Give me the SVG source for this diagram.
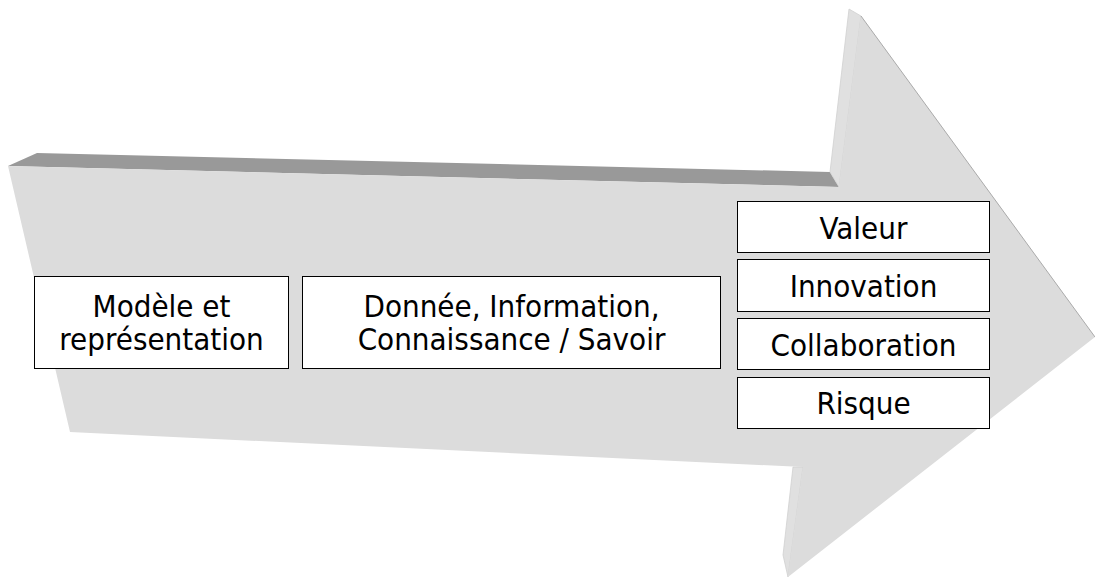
<svg xmlns="http://www.w3.org/2000/svg" width="1095" height="577" viewBox="0 0 1095 577">
<style>
.box{fill:#ffffff;stroke:#000000;stroke-width:1}
.t{font-family:"DejaVu Sans Condensed","DejaVu Sans",sans-serif;font-size:31px;fill:#000000;text-anchor:middle}
</style>
<rect width="1095" height="577" fill="#ffffff"/>
<g id="arrow">
<polygon points="8,166 37,153 830,172 839,187" fill="#999999"/>
<polygon points="830,172 849,9 861,16 839,187" fill="#e0e0e0" stroke="#d0d0d0" stroke-width="0.8"/>
<polygon points="793,467 803,467 788,577 783,555" fill="#e0e0e0" stroke="#d0d0d0" stroke-width="0.8"/>
<polygon points="8,166 839,187 861,16 1095,337 788,577 803,467 70,432" fill="#dcdcdc"/>
<line x1="861" y1="16" x2="1095" y2="337" stroke="#aaaaaa" stroke-width="1"/>
</g>
<g id="node-modele">
<rect class="box" x="34.5" y="276.5" width="254" height="92"/>
<text class="t" x="161.5" y="317">Modèle et</text>
<text class="t" x="161.5" y="350">représentation</text>
</g>
<g id="node-donnee">
<rect class="box" x="302.5" y="276.5" width="418" height="92"/>
<text class="t" x="511.5" y="317">Donnée, Information,</text>
<text class="t" x="511.5" y="350">Connaissance / Savoir</text>
</g>
<g id="node-valeur">
<rect class="box" x="737.5" y="201.5" width="252" height="51"/>
<text class="t" x="863.5" y="239">Valeur</text>
</g>
<g id="node-innovation">
<rect class="box" x="737.5" y="259.5" width="252" height="52"/>
<text class="t" x="863.5" y="297">Innovation</text>
</g>
<g id="node-collaboration">
<rect class="box" x="737.5" y="318.5" width="252" height="51"/>
<text class="t" x="863.5" y="356">Collaboration</text>
</g>
<g id="node-risque">
<rect class="box" x="737.5" y="377.5" width="252" height="51"/>
<text class="t" x="863.5" y="414">Risque</text>
</g>
<g id="connectors"/>
</svg>
